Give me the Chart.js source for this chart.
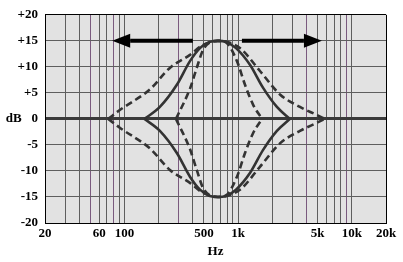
<!DOCTYPE html>
<html>
<head>
<meta charset="utf-8">
<script src="https://cdn.jsdelivr.net/npm/chart.js@4/dist/chart.umd.min.js"></script>
<style>
  html, body { margin: 0; padding: 0; background: #fff; }
  #wrap { width: 403px; height: 262px; }
</style>
</head>
<body>
<div id="wrap"><canvas id="chart" width="403" height="262"></canvas></div>
<script>
'use strict'

// frequencies (Hz) and gains (dB)
const wideFreq = [72, 91, 168, 251, 377, 490, 665, 1038, 1556, 2334, 3500, 4930, 5800]
const wideBoost = [0, 1.7, 5.7, 9.8, 12.3, 14.2, 15, 13.6, 9.2, 4.7, 2.3, 0.75, 0]
const wideCut = [0, -1.7, -5.7, -9.8, -12.3, -14.2, -15, -13.6, -9.2, -4.7, -2.3, -0.75, 0]

const solidFreq = [150, 205, 290, 377, 462, 565, 665, 782, 958, 1271, 1654, 2194, 2856]
const solidBoost = [0, 2.3, 6.6, 11.1, 13.6, 14.8, 15, 14.8, 13.6, 10.4, 6.0, 2.3, 0]
const solidCut = [0, -2.3, -6.6, -11.1, -13.6, -14.8, -15, -14.8, -13.6, -10.4, -6.0, -2.3, 0]

const narrowFreq = [284, 377, 434, 490, 565, 665, 782, 977, 1148, 1350, 1622]
const narrowBoost = [0, 5.8, 9.9, 13.2, 14.7, 15, 14.7, 11.1, 6.6, 2.8, 0]
const narrowCut = [0, -5.8, -9.9, -13.2, -14.7, -15, -14.7, -11.1, -6.6, -2.8, 0]

// arrows at the +15 dB level (Hz)
const arrowFrom = [400, 1080]
const arrowTo = [78, 5460]
const arrowLevel = 15

const gridFreqs = [20, 30, 40, 50, 60, 70, 80, 90, 100, 200, 300, 400, 500, 600, 700, 800, 900,
  1000, 2000, 3000, 4000, 5000, 6000, 7000, 8000, 9000, 10000, 20000]
const tintedFreqs = [50, 80, 300, 4000, 9000]
const xTickValues = [20, 60, 100, 500, 1000, 5000, 10000, 20000]
const xTickLabels = ['20', '60', '100', '500', '1k', '5k', '10k', '20k']
const yTickValues = [-20, -15, -10, -5, 0, 5, 10, 15, 20]
const yTickLabels = ['-20', '-15', '-10', '-5', 'dB   0', '+5', '+10', '+15', '+20']

const pts = (xs, ys) => xs.map((x, i) => ({ x, y: ys[i] }))
const font = { family: 'Liberation Serif', size: 13, weight: 'bold' }

const curve = (xs, ys, dashed) => ({
  data: pts(xs, ys),
  borderColor: '#333333',
  borderWidth: 2.6,
  borderDash: dashed ? [7, 4] : [],
  pointRadius: 0,
  fill: false,
  cubicInterpolationMode: 'monotone'
})

const plotBackground = {
  id: 'plotBackground',
  beforeDraw (chart) {
    const { ctx, chartArea: a } = chart
    ctx.save()
    ctx.fillStyle = '#e2e2e2'
    ctx.fillRect(a.left, a.top, a.right - a.left, a.bottom - a.top)
    ctx.restore()
  }
}

const arrows = {
  id: 'arrows',
  afterDatasetsDraw (chart) {
    const { ctx, scales } = chart
    const y = scales.y.getPixelForValue(arrowLevel)
    ctx.save()
    ctx.fillStyle = '#000'
    ctx.strokeStyle = '#000'
    ctx.lineWidth = 4
    arrowFrom.forEach((f, i) => {
      const x0 = scales.x.getPixelForValue(f)
      const x1 = scales.x.getPixelForValue(arrowTo[i])
      const dir = Math.sign(x1 - x0)
      const headBase = x1 - dir * 18
      ctx.beginPath()
      ctx.moveTo(x0, y)
      ctx.lineTo(headBase, y)
      ctx.stroke()
      ctx.beginPath()
      ctx.moveTo(x1, y)
      ctx.lineTo(headBase, y - 7)
      ctx.lineTo(headBase, y + 7)
      ctx.closePath()
      ctx.fill()
    })
    ctx.restore()
  }
}

new Chart(document.getElementById('chart').getContext('2d'), {
  type: 'scatter',
  data: {
    datasets: [
      curve(wideFreq, wideBoost, true),
      curve(wideFreq, wideCut, true),
      curve(solidFreq, solidBoost, false),
      curve(solidFreq, solidCut, false),
      curve(narrowFreq, narrowBoost, true),
      curve(narrowFreq, narrowCut, true)
    ].map(d => ({ ...d, showLine: true }))
  },
  options: {
    responsive: false,
    animation: false,
    layout: { padding: { left: 0, right: 17, top: 11, bottom: 0 } },
    plugins: {
      legend: { display: false },
      tooltip: { enabled: false }
    },
    scales: {
      x: {
        type: 'logarithmic',
        min: 20,
        max: 20000,
        afterBuildTicks: scale => { scale.ticks = gridFreqs.map(value => ({ value })) },
        afterFit: scale => { scale.height = 39 },
        border: { display: true, color: '#000', width: 1 },
        grid: {
          drawTicks: false,
          lineWidth: 1,
          color: ctx => {
            const v = ctx.tick ? ctx.tick.value : 0
            if (v === 20 || v === 20000) return '#000'
            return tintedFreqs.includes(v) ? '#7a5a7e' : '#5e5e5e'
          }
        },
        ticks: {
          autoSkip: false,
          maxRotation: 0,
          padding: 3,
          color: '#000',
          font,
          callback: value => {
            const i = xTickValues.indexOf(value)
            return i >= 0 ? xTickLabels[i] : ''
          }
        },
        title: { display: true, text: 'Hz', color: '#000', font, padding: { top: 0, bottom: 3 } }
      },
      y: {
        min: -20,
        max: 20,
        afterBuildTicks: scale => { scale.ticks = yTickValues.map(value => ({ value })) },
        afterFit: scale => { scale.width = 45 },
        border: { display: true, color: '#000', width: 1 },
        grid: {
          drawTicks: false,
          lineWidth: ctx => (ctx.tick && ctx.tick.value === 0 ? 3 : 1),
          color: ctx => {
            const v = ctx.tick ? ctx.tick.value : 0
            if (v === 20 || v === -20) return '#000'
            return v === 0 ? '#3a3a3a' : '#5e5e5e'
          }
        },
        ticks: {
          padding: 7,
          color: '#000',
          font,
          callback: value => yTickLabels[yTickValues.indexOf(value)]
        }
      }
    }
  },
  plugins: [plotBackground, arrows]
})
</script>
</body>
</html>
